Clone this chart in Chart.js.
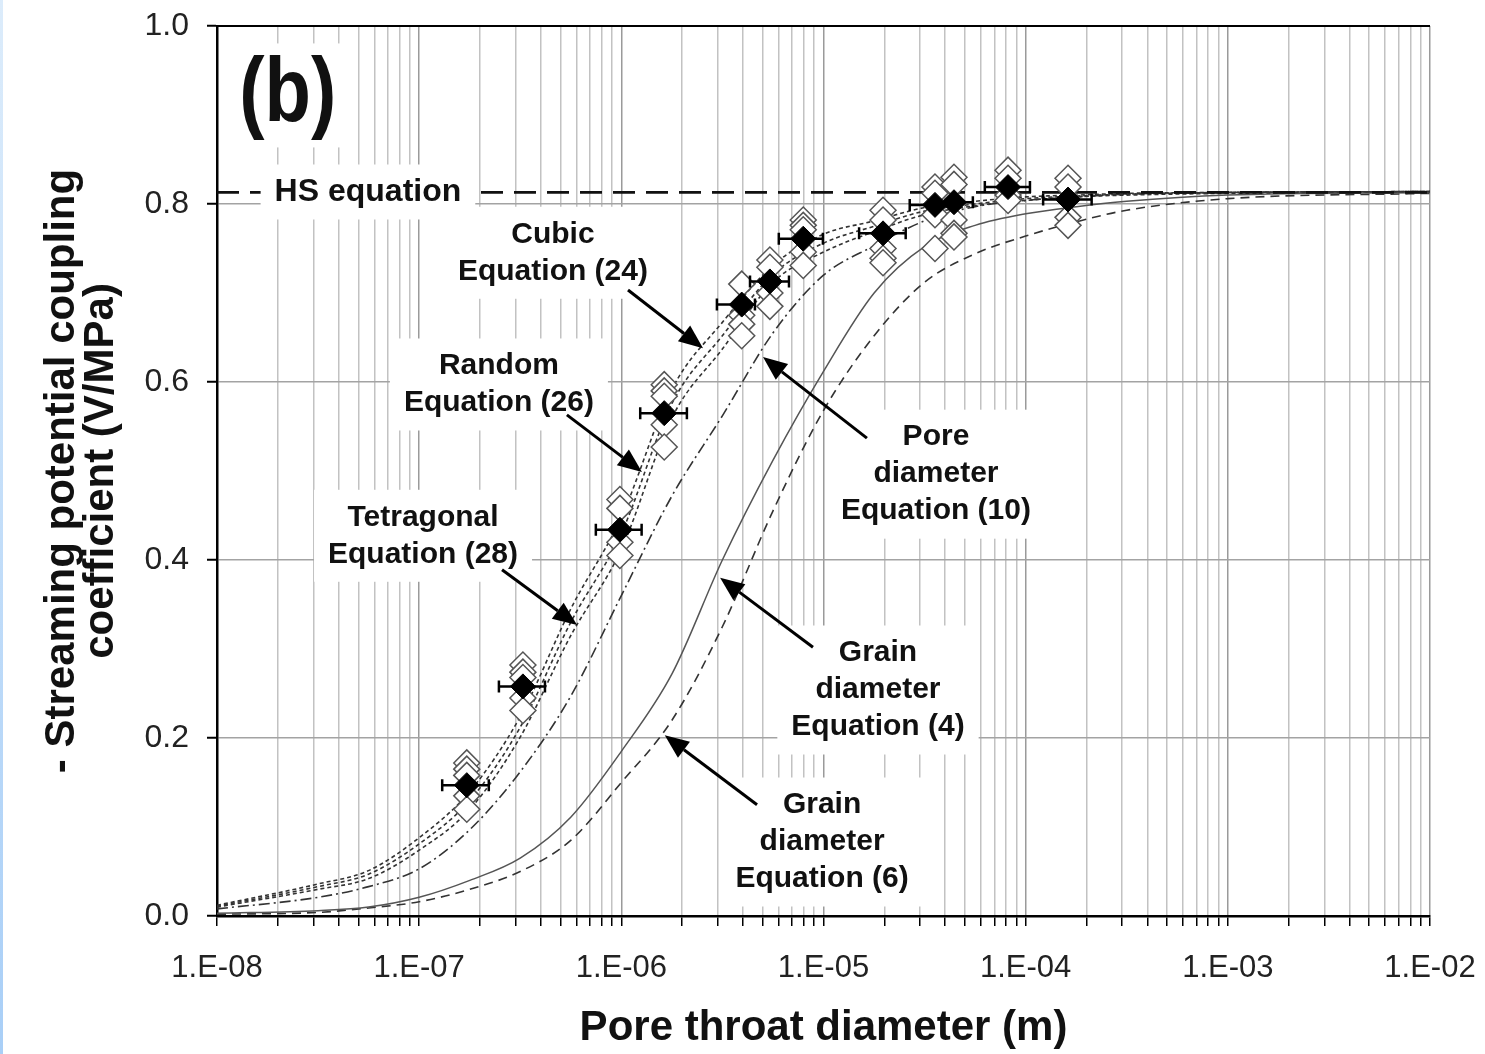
<!DOCTYPE html>
<html>
<head>
<meta charset="utf-8">
<script src="https://cdn.jsdelivr.net/npm/chart.js@4.4.0/dist/chart.umd.min.js"></script>
<style>
  html, body { margin: 0; padding: 0; background: #fff; }
  #wrap { position: relative; width: 1485px; height: 1054px; }
  #edge { position: absolute; left: 0; top: 0; width: 3px; height: 1054px; background: linear-gradient(#dcecfb, #a9cff7); }
</style>
</head>
<body>
<div id="wrap"><canvas id="chart" width="1485" height="1054"></canvas><div id="edge"></div></div>
<script>
// Trục x: các mốc thập phân và nhãn
const decades = [1e-8, 1e-7, 1e-6, 1e-5, 1e-4, 1e-3, 1e-2];
const decadeLabels = ["1.E-08", "1.E-07", "1.E-06", "1.E-05", "1.E-04", "1.E-03", "1.E-02"];
const minorSteps = [2, 3, 4, 5, 6, 7, 8, 9];
const yTicks = [0, 0.2, 0.4, 0.6, 0.8, 1.0];

// Các đường lý thuyết
const curveX = [1e-8, 3.16e-8, 5.62e-8, 1e-7, 1.78e-7, 3.16e-7, 5.62e-7, 1e-6, 1.78e-6, 3.16e-6,
                5.62e-6, 1e-5, 1.78e-5, 3.16e-5, 5.62e-5, 1e-4, 1.78e-4, 3.16e-4, 1e-3, 1e-2];
const hsValue = 0.813;
const cubic24 = [0.012, 0.036, 0.051, 0.088, 0.140, 0.224, 0.345, 0.448, 0.592, 0.667,
                 0.731, 0.766, 0.781, 0.796, 0.803, 0.808, 0.810, 0.812, 0.813, 0.814];
const random26 = [0.011, 0.033, 0.047, 0.081, 0.130, 0.212, 0.330, 0.430, 0.576, 0.652,
                  0.721, 0.756, 0.775, 0.792, 0.800, 0.806, 0.809, 0.811, 0.813, 0.814];
const tetra28 = [0.010, 0.030, 0.042, 0.074, 0.120, 0.201, 0.315, 0.412, 0.560, 0.637,
                 0.712, 0.746, 0.769, 0.788, 0.798, 0.804, 0.808, 0.810, 0.812, 0.814];
const pore10 = [0.008, 0.021, 0.033, 0.053, 0.097, 0.162, 0.247, 0.360, 0.472, 0.562,
                0.655, 0.720, 0.753, 0.781, 0.797, 0.804, 0.808, 0.811, 0.813, 0.814];
const grain4 = [0.003, 0.006, 0.010, 0.021, 0.040, 0.065, 0.111, 0.185, 0.272, 0.400,
                0.512, 0.612, 0.700, 0.752, 0.776, 0.789, 0.797, 0.803, 0.810, 0.813];
const grain6 = [0.002, 0.004, 0.009, 0.016, 0.030, 0.050, 0.085, 0.150, 0.220, 0.325,
                0.455, 0.568, 0.652, 0.712, 0.744, 0.764, 0.780, 0.793, 0.806, 0.812];

// Số liệu đo: điểm trung bình (kim cương đen) và sai số theo x
const pointX = [1.72e-7, 3.26e-7, 9.84e-7, 1.63e-6, 3.94e-6, 5.43e-6, 7.94e-6, 1.97e-5, 3.56e-5, 4.42e-5, 8.18e-5, 1.62e-4];
const pointY = [0.147, 0.258, 0.434, 0.565, 0.687, 0.713, 0.761, 0.767, 0.799, 0.802, 0.819, 0.805];
const xErrLow = [1.30e-7, 2.48e-7, 7.48e-7, 1.24e-6, 2.97e-6, 4.33e-6, 6.01e-6, 1.50e-5, 2.67e-5, 3.48e-5, 6.28e-5, 1.22e-4];
const xErrHigh = [2.21e-7, 4.19e-7, 1.26e-6, 2.11e-6, 4.58e-6, 6.75e-6, 9.93e-6, 2.55e-5, 4.36e-5, 5.48e-5, 1.05e-4, 2.12e-4];
// Các phép đo riêng lẻ (kim cương rỗng) tại mỗi điểm
const openY = [
  [0.172, 0.165, 0.158, 0.135, 0.120],
  [0.282, 0.274, 0.268, 0.245, 0.231],
  [0.468, 0.458, 0.420, 0.405],
  [0.597, 0.590, 0.584, 0.552, 0.527],
  [0.710, 0.675, 0.665, 0.652],
  [0.737, 0.729, 0.700, 0.685],
  [0.782, 0.776, 0.771, 0.746, 0.731],
  [0.793, 0.782, 0.750, 0.739, 0.734],
  [0.819, 0.812, 0.788, 0.750],
  [0.830, 0.822, 0.782, 0.767, 0.763],
  [0.838, 0.829, 0.810, 0.804],
  [0.829, 0.819, 0.785, 0.776]
];

// Chú thích (toạ độ theo đơn vị dữ liệu)
const notes = [
  { lines: ["HS equation"], x: 5.58e-8, y: 0.8135, size: 32 },
  { lines: ["Cubic", "Equation (24)"], x: 4.59e-7, y: 0.766 },
  { lines: ["Random", "Equation (26)"], x: 2.48e-7, y: 0.618 },
  { lines: ["Tetragonal", "Equation (28)"], x: 1.045e-7, y: 0.448 },
  { lines: ["Pore", "diameter", "Equation (10)"], x: 3.60e-5, y: 0.538 },
  { lines: ["Grain", "diameter", "Equation (4)"], x: 1.86e-5, y: 0.2955 },
  { lines: ["Grain", "diameter", "Equation (6)"], x: 9.84e-6, y: 0.1247 }
];
const arrows = [
  { from: [1.079e-6, 0.7034], to: [2.535e-6, 0.638] },
  { from: [5.38e-7, 0.563], to: [1.265e-6, 0.499] },
  { from: [2.57e-7, 0.389], to: [6.04e-7, 0.327] },
  { from: [1.64e-5, 0.537], to: [5.02e-6, 0.628] },
  { from: [8.87e-6, 0.302], to: [3.08e-6, 0.380] },
  { from: [4.69e-6, 0.125], to: [1.64e-6, 0.203] }
];
const panelTag = { text: "(b)", x: 2.24e-8, y: 0.922 };

const FONT = '"Liberation Sans", Arial, sans-serif';
const isDecade = v => decades.some(d => Math.abs(d - v) / d < 1e-6);
const toPts = ys => curveX.map((x, i) => ({ x, y: ys[i] }));
const noOverflow = s => { s.paddingTop = 0; s.paddingBottom = 0; s.paddingLeft = 0; s.paddingRight = 0; };

function curve(label, ys, dash, color, width) {
  return {
    label, data: toPts(ys), showLine: true, pointRadius: 0, borderColor: color,
    borderWidth: width || 1.6, borderDash: dash, cubicInterpolationMode: "monotone", order: 3
  };
}

// Vẽ sai số, chú thích, mũi tên
const overlay = {
  id: "overlay",
  afterDatasetsDraw(chart) {
    const { ctx, chartArea: a } = chart;
    const xs = chart.scales.x, ys = chart.scales.y;
    ctx.save();

    // thanh sai số
    ctx.strokeStyle = "#000";
    ctx.lineWidth = 2.5;
    pointX.forEach((_, i) => {
      const py = ys.getPixelForValue(pointY[i]);
      const x1 = xs.getPixelForValue(xErrLow[i]);
      const x2 = xs.getPixelForValue(xErrHigh[i]);
      ctx.beginPath();
      ctx.moveTo(x1, py); ctx.lineTo(x2, py);
      ctx.moveTo(x1, py - 6); ctx.lineTo(x1, py + 6);
      ctx.moveTo(x2, py - 6); ctx.lineTo(x2, py + 6);
      ctx.stroke();
    });

    // khung viền trên
    ctx.lineWidth = 2;
    ctx.beginPath();
    ctx.moveTo(a.left, a.top); ctx.lineTo(a.right, a.top);
    ctx.stroke();

    // nhãn có nền trắng
    const lh = 37;
    notes.forEach(n => {
      const size = n.size || 30;
      ctx.font = `bold ${size}px ${FONT}`;
      const cx = xs.getPixelForValue(n.x), cy = ys.getPixelForValue(n.y);
      const w = Math.max(...n.lines.map(l => ctx.measureText(l).width));
      ctx.fillStyle = "#fff";
      ctx.fillRect(cx - w / 2 - 14, cy - lh / 2 - 9, w + 28, n.lines.length * lh + 18);
      ctx.fillStyle = "#111";
      ctx.textAlign = "center";
      ctx.textBaseline = "middle";
      n.lines.forEach((l, k) => ctx.fillText(l, cx, cy + k * lh));
    });

    // mũi tên
    arrows.forEach(ar => {
      const x1 = xs.getPixelForValue(ar.from[0]), y1 = ys.getPixelForValue(ar.from[1]);
      const x2 = xs.getPixelForValue(ar.to[0]), y2 = ys.getPixelForValue(ar.to[1]);
      const ang = Math.atan2(y2 - y1, x2 - x1);
      const hl = 24, hw = 10;
      const bx = x2 - hl * Math.cos(ang), by = y2 - hl * Math.sin(ang);
      ctx.strokeStyle = "#000";
      ctx.lineWidth = 3;
      ctx.beginPath(); ctx.moveTo(x1, y1); ctx.lineTo(bx, by); ctx.stroke();
      ctx.fillStyle = "#000";
      ctx.beginPath();
      ctx.moveTo(x2, y2);
      ctx.lineTo(bx + hw * Math.sin(ang), by - hw * Math.cos(ang));
      ctx.lineTo(bx - hw * Math.sin(ang), by + hw * Math.cos(ang));
      ctx.closePath();
      ctx.fill();
    });

    // nhãn (b)
    const tx = xs.getPixelForValue(panelTag.x), ty = ys.getPixelForValue(panelTag.y);
    ctx.font = `bold 76px ${FONT}`;
    const tw = ctx.measureText(panelTag.text).width;
    ctx.fillStyle = "#fff";
    ctx.fillRect(tx - tw / 2 - 10, ty - 52, tw + 20, 104);
    ctx.translate(tx, ty);
    ctx.scale(1, 1.2);
    ctx.fillStyle = "#111";
    ctx.textAlign = "center";
    ctx.textBaseline = "middle";
    ctx.fillText(panelTag.text, 0, 0);
    ctx.restore();
  }
};

new Chart(document.getElementById("chart"), {
  type: "scatter",
  data: {
    datasets: [
      {
        label: "Mean", order: 0, pointStyle: "rectRot", pointRadius: 12.5,
        backgroundColor: "#000", borderColor: "#000", borderWidth: 1,
        data: pointX.map((x, i) => ({ x, y: pointY[i] }))
      },
      {
        label: "Samples", order: 1, pointStyle: "rectRot", pointRadius: 13,
        backgroundColor: "#fff", borderColor: "#555", borderWidth: 1.5,
        data: pointX.flatMap((x, i) => openY[i].map(y => ({ x, y })))
      },
      curve("HS", curveX.map(() => hsValue), [22, 11], "#111", 2.8),
      curve("Cubic (24)", cubic24, [4, 3], "#333"),
      curve("Random (26)", random26, [4, 3], "#333"),
      curve("Tetragonal (28)", tetra28, [4, 3], "#333"),
      curve("Pore (10)", pore10, [11, 4, 2, 4], "#333"),
      curve("Grain (4)", grain4, [], "#555", 1.5),
      curve("Grain (6)", grain6, [9, 6], "#333")
    ]
  },
  options: {
    responsive: false,
    animation: false,
    devicePixelRatio: 1,
    layout: { padding: { top: 26, right: 55, left: 0, bottom: 0 } },
    plugins: { legend: { display: false }, tooltip: { enabled: false } },
    scales: {
      x: {
        type: "logarithmic", min: 1e-8, max: 1e-2,
        afterFit: s => { s.height = 138; noOverflow(s); },
        afterBuildTicks: s => {
          const t = [];
          decades.forEach((d, i) => {
            t.push({ value: d });
            if (i < decades.length - 1) minorSteps.forEach(m => t.push({ value: d * m }));
          });
          s.ticks = t;
        },
        ticks: {
          autoSkip: false, maxRotation: 0, padding: 24, color: "#222",
          font: { family: FONT, size: 31 },
          callback: v => { const i = decades.findIndex(d => Math.abs(d - v) / d < 1e-6); return i >= 0 ? decadeLabels[i] : ""; }
        },
        grid: {
          color: c => (c.tick && isDecade(c.tick.value) ? "#9a9a9a" : "#c2c2c2"),
          lineWidth: 1.5, tickColor: "#000", tickLength: 10, tickWidth: 1.5
        },
        border: { color: "#000", width: 2.5 },
        title: {
          display: true, text: "Pore throat diameter (m)", color: "#111",
          font: { family: FONT, size: 42, weight: "bold", lineHeight: 1 }, padding: { top: 0, bottom: 5 }
        }
      },
      y: {
        min: 0, max: 1,
        afterFit: s => { s.width = 217; noOverflow(s); },
        afterBuildTicks: s => { s.ticks = yTicks.map(v => ({ value: v })); },
        ticks: {
          padding: 18, color: "#222", font: { family: FONT, size: 32 },
          callback: v => v.toFixed(1)
        },
        grid: { color: "#a3a3a3", lineWidth: 1.5, tickColor: "#000", tickLength: 10, tickWidth: 2 },
        border: { color: "#000", width: 2.5 },
        title: {
          display: true, text: ["- Streaming potential coupling", "coefficient (V/MPa)"], color: "#111",
          font: { family: FONT, size: 42, weight: "bold", lineHeight: 0.95 }, padding: { top: 42, bottom: 0 }
        }
      }
    }
  },
  plugins: [overlay]
});
</script>
</body>
</html>
